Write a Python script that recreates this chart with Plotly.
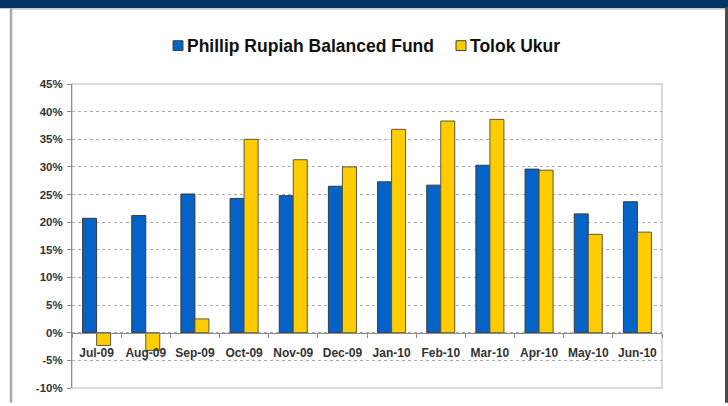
import plotly.graph_objects as go

categories = ["Jul-09", "Aug-09", "Sep-09", "Oct-09", "Nov-09", "Dec-09",
              "Jan-10", "Feb-10", "Mar-10", "Apr-10", "May-10", "Jun-10"]
fund_values = [20.7, 21.2, 25.1, 24.3, 24.8, 26.5, 27.3, 26.7, 30.3, 29.6, 21.5, 23.7]
benchmark_values = [-2.3, -3.2, 2.5, 35.0, 31.3, 30.0, 36.8, 38.3, 38.6, 29.4, 17.8, 18.2]
series_names = ["Phillip Rupiah Balanced Fund", "Tolok Ukur"]
series_colors = ["#0563C8", "#FFCC00"]
y_tick_values = [-10, -5, 0, 5, 10, 15, 20, 25, 30, 35, 40, 45]
y_tick_labels = ["-10%", "-5%", "0%", "5%", "10%", "15%", "20%", "25%", "30%", "35%", "40%", "45%"]

W, H = 728, 406
L, R, T, B = 72, 662, 84, 393  # plot area pixel bounds
PW, PH = R - L, B - T


def px(x):
    return (x - L) / PW


def py(y):
    return (B - y) / PH


FONT = "Liberation Sans, Arial, sans-serif"

fig = go.Figure()
fig.add_trace(go.Bar(x=categories, y=fund_values, name=series_names[0], showlegend=False,
                     marker=dict(color=series_colors[0], line=dict(color="#3a3a3a", width=1))))
fig.add_trace(go.Bar(x=categories, y=benchmark_values, name=series_names[1], showlegend=False,
                     marker=dict(color=series_colors[1], line=dict(color="#5a5a3a", width=1))))

ymin, ymax = -10, 45
zero_pos = (0 - ymin) / (ymax - ymin)

shapes = [
    # plot area border (right/bottom)
    dict(type="rect", xref="paper", yref="paper", x0=0, x1=1, y0=0, y1=1,
         line=dict(color="#cfcfcf", width=1.5), layer="below"),
    # navy top band
    dict(type="rect", xref="paper", yref="paper", x0=px(-2), x1=px(W + 2), y0=py(7), y1=py(-2),
         fillcolor="#033466", line=dict(width=0)),
    # top frame line
    dict(type="line", xref="paper", yref="paper", x0=px(10), x1=px(725), y0=py(7.8), y1=py(7.8),
         line=dict(color="#c8c8c8", width=1.5)),
    # left frame line
    dict(type="line", xref="paper", yref="paper", x0=px(11), x1=px(11), y0=py(7), y1=py(H + 2),
         line=dict(color="#a8a8a8", width=2.5)),
    # right dark line
    dict(type="line", xref="paper", yref="paper", x0=px(726.5), x1=px(726.5), y0=py(6), y1=py(H + 2),
         line=dict(color="#4a4a4a", width=3)),
]

# legend (manual, to match compact marker/text spacing)
legend_items = [(173, series_names[0], series_colors[0]), (456, series_names[1], series_colors[1])]
annotations = []
for x0, name, col in legend_items:
    shapes.append(dict(type="rect", xref="paper", yref="paper", x0=px(x0), x1=px(x0 + 10),
                       y0=py(50), y1=py(40), fillcolor=col, line=dict(color="#444444", width=1)))
    annotations.append(dict(xref="paper", yref="paper", x=px(x0 + 12), y=py(45), xanchor="left",
                            yanchor="middle", showarrow=False, text=name,
                            font=dict(family=FONT, size=17.5, color="#111111", weight="bold")))

fig.update_layout(
    width=W, height=H,
    margin=dict(l=L, r=W - R, t=T, b=H - B, pad=0),
    paper_bgcolor="white", plot_bgcolor="white",
    barmode="group", bargap=0.43, bargroupgap=0,
    font=dict(family=FONT, color="#333333"),
    showlegend=False,
    xaxis=dict(anchor="free", position=zero_pos, showline=True, linecolor="#8c8c8c", linewidth=1,
               ticks="outside", tickson="boundaries", ticklen=4, tickcolor="#8c8c8c", tickangle=0,
               ticklabelstandoff=9,
               showgrid=False, tickfont=dict(family=FONT, size=12, color="#333333", weight="bold"),
               range=[-0.5, len(categories) - 0.5]),
    yaxis=dict(range=[ymin, ymax], tickvals=y_tick_values, ticktext=y_tick_labels,
               showline=True, linecolor="#8c8c8c", linewidth=1, ticks="outside", ticklen=4,
               ticklabelstandoff=2,
               tickcolor="#8c8c8c", showgrid=True, gridcolor="#ababab", griddash="dot", gridwidth=1,
               zeroline=False, tickfont=dict(family=FONT, size=11.5, color="#333333", weight="bold")),
    shapes=shapes,
    annotations=annotations,
)

fig.write_html("out.html", config={"displayModeBar": False},
               post_script="document.body.style.margin='0';document.body.style.overflow='hidden';")
